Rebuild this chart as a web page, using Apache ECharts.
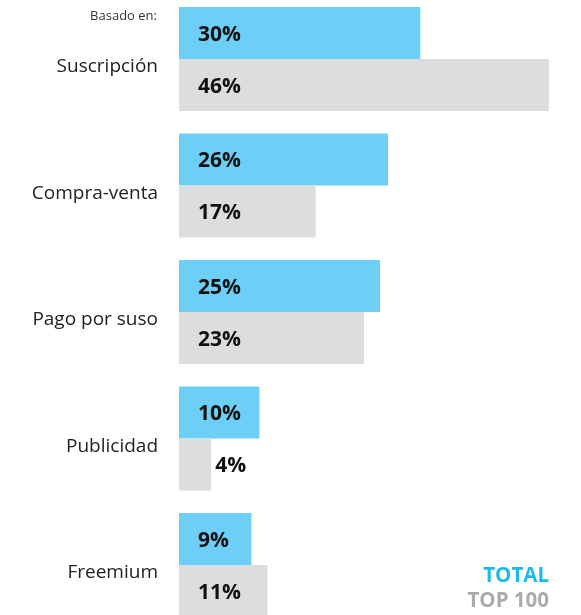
<!DOCTYPE html>
<html>
<head>
<meta charset="utf-8">
<script src="https://cdn.jsdelivr.net/npm/echarts@6/dist/echarts.min.js"></script>
<style>html,body{margin:0;padding:0;background:#fff}#c{width:581px;height:615px}</style>
</head>
<body>
<div id="c"></div>
<script>
const categories = ['Suscripción', 'Compra-venta', 'Pago por suso', 'Publicidad', 'Freemium'];
const totalValues = [30, 26, 25, 10, 9];
const top100Values = [46, 17, 23, 4, 11];
const seriesNames = ['TOTAL', 'TOP 100'];

const FONT = '"Open Sans", "Noto Sans", sans-serif';
const chart = echarts.init(document.getElementById('c'), null, {renderer: 'canvas'});

function labelled(values) {
  return values.map(v => {
    const item = {value: v};
    if (v < 6) {
      item.label = {position: 'right', distance: 4};
    }
    return item;
  });
}

const valueLabel = {show: true, position: 'insideLeft', distance: 19, offset: [0, 2], formatter: '{c}%', fontSize: 21, fontWeight: 'bold', color: '#111', fontFamily: FONT};

chart.setOption({
  animation: false,
  grid: {left: 179, right: 32, top: -4.25, height: 632.5, containLabel: false, outerBoundsMode: 'none'},
  xAxis: {type: 'value', min: 0, max: 46, show: false},
  yAxis: {
    type: 'category', data: categories, inverse: true,
    axisLine: {show: false}, axisTick: {show: false},
    axisLabel: {
      margin: 21, fontSize: 19, color: '#222', fontFamily: FONT,
      formatter: (v) => '{a|' + v + '}',
      rich: {a: {fontSize: 19, color: '#222', fontFamily: FONT, padding: [16, 0, 0, 0]}}
    }
  },
  series: [
    {
      name: seriesNames[0], type: 'bar', data: labelled(totalValues), barWidth: 52, barGap: '0%',
      itemStyle: {color: '#6DCFF6'},
      label: valueLabel
    },
    {
      name: seriesNames[1], type: 'bar', data: labelled(top100Values), barWidth: 52, barGap: '0%',
      itemStyle: {color: '#DCDDDF'},
      label: valueLabel
    }
  ],
  graphic: [
    {type: 'text', right: 424, top: 10, style: {text: 'Basado en:', fontSize: 13, fill: '#333', fontFamily: FONT}},
    {type: 'text', right: 32, top: 566, style: {text: seriesNames[0], fontSize: 20.5, fontWeight: 'bold', fill: '#1CB9EE', fontFamily: FONT}},
    {type: 'text', right: 32, top: 591, style: {text: seriesNames[1], fontSize: 20.5, fontWeight: 'bold', fill: '#ABABAB', fontFamily: FONT}}
  ]
});
</script>
</body>
</html>
